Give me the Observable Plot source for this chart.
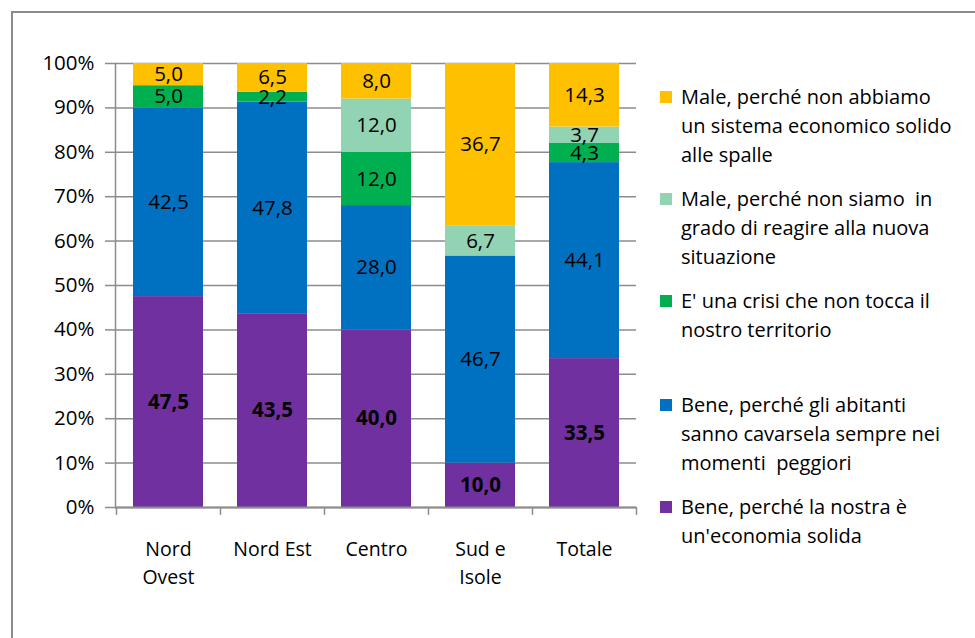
<!DOCTYPE html>
<html>
<head>
<meta charset="utf-8">
<script src="https://cdn.jsdelivr.net/npm/d3@7"></script>
<script src="https://cdn.jsdelivr.net/npm/@observablehq/plot@0.6"></script>
<style>
  html, body { margin: 0; padding: 0; background: #fff; overflow: hidden; }
  #wrap { position: relative; width: 975px; height: 638px; overflow: hidden; font-family: "Open Sans", Lato, sans-serif; }
  #border { position: absolute; left: 11px; top: 11px; right: -10px; bottom: -10px; border: 2px solid #8c8c8c; }
  #chart { position: absolute; left: 0; top: 0; }
  .item { position: absolute; left: 660px; font-size: 20px; line-height: 29px; color: #000; white-space: pre; }
  .sw { position: absolute; left: 0; top: 9px; width: 12px; height: 12px; }
  .lbl { position: absolute; left: 21px; top: 0; }
</style>
</head>
<body>
<div id="wrap">
  <div id="border"></div>
  <div id="chart"></div>
  <div id="legend"></div>
</div>
<script>
const categories = ["Nord Ovest", "Nord Est", "Centro", "Sud e Isole", "Totale"];
const categoryLabels = ["Nord\nOvest", "Nord Est", "Centro", "Sud e\nIsole", "Totale"];

// series, from bottom of the stack to top
const seriesNames = [
  "Bene, perché la nostra è un'economia solida",
  "Bene, perché gli abitanti sanno cavarsela sempre nei momenti peggiori",
  "E' una crisi che non tocca il nostro territorio",
  "Male, perché non siamo in grado di reagire alla nuova situazione",
  "Male, perché non abbiamo un sistema economico solido alle spalle"
];
const legendLines = [
  "Bene, perché la nostra è\nun'economia solida",
  "Bene, perché gli abitanti\nsanno cavarsela sempre nei\nmomenti  peggiori",
  "E' una crisi che non tocca il\nnostro territorio",
  "Male, perché non siamo  in\ngrado di reagire alla nuova\nsituazione",
  "Male, perché non abbiamo\nun sistema economico solido\nalle spalle"
];
const seriesColors = ["#7030A0", "#0070C0", "#00B050", "#92D3B4", "#FFC000"];

const beneSolida   = [47.5, 43.5, 40.0, 10.0, 33.5];
const beneAbitanti = [42.5, 47.8, 28.0, 46.7, 44.1];
const nonTocca     = [5.0, 2.2, 12.0, 0, 4.3];
const maleReagire  = [0, 0, 12.0, 6.7, 3.7];
const maleSistema  = [5.0, 6.5, 8.0, 36.7, 14.3];
const seriesValues = [beneSolida, beneAbitanti, nonTocca, maleReagire, maleSistema];

const yTicksPct = [0, 10, 20, 30, 40, 50, 60, 70, 80, 90, 100];
const yTicks = yTicksPct.map(p => p / 100);

const data = [];
seriesNames.forEach((s, si) => {
  categories.forEach((c, ci) => {
    data.push({category: c, series: s, si, value: seriesValues[si][ci]});
  });
});

const fmt = v => v.toFixed(1).replace(".", ",");
const labelMap = new Map(categories.map((c, i) => [c, categoryLabels[i]]));

const stackOpts = {x: "category", y: "value", z: "series", offset: "normalize"};
const FONT = "'Open Sans', Lato, sans-serif";

const chart = Plot.plot({
  width: 975,
  height: 638,
  marginLeft: 115,
  marginRight: 339,
  marginTop: 63,
  marginBottom: 131,
  style: {fontFamily: FONT, fontSize: "20px", color: "#000", background: "transparent"},
  x: {domain: categories, paddingInner: 0.33, paddingOuter: 0.165, label: null},
  y: {domain: [0, 1], label: null},
  color: {domain: seriesNames, range: seriesColors},
  marks: [
    Plot.gridY(yTicks, {stroke: "#8c8c8c", strokeOpacity: 1, strokeWidth: 1.5}),
    Plot.barY(data, Plot.stackY({...stackOpts, fill: "series"})),
    Plot.text(data, Plot.stackY({...stackOpts,
      text: d => (d.si === 0 || d.value === 0) ? "" : fmt(d.value),
      fill: "#000", fontSize: 20.5})),
    Plot.text(data, Plot.stackY({...stackOpts,
      text: d => (d.si === 0 && d.value > 0) ? fmt(d.value) : "",
      fill: "#000", fontSize: 20.5, fontWeight: "bold"})),
    Plot.axisY(yTicks, {tickSize: 10, tickPadding: 11, stroke: "#8c8c8c", strokeWidth: 1.5,
      tickFormat: d => Math.round(d * 100) + "%", fontSize: 20.5, fill: "#000", label: null}),
    Plot.frame({anchor: "left", stroke: "#8c8c8c", strokeWidth: 1.5}),
    Plot.ruleY([0], {stroke: "#8c8c8c", strokeWidth: 2}),
    Plot.ruleX(categories, {x: d => d, dx: -52, y1: 0, y2: 0, insetBottom: -8, stroke: "#8c8c8c", strokeWidth: 1.5}),
    Plot.ruleX(categories.slice(-1), {x: d => d, dx: 52, y1: 0, y2: 0, insetBottom: -8, stroke: "#8c8c8c", strokeWidth: 1.5}),
    Plot.axisX({tickSize: 0, tickPadding: 28, tickFormat: d => labelMap.get(d), lineHeight: 1.45,
      fontSize: 19.5, fill: "#000", label: null})
  ]
});
document.getElementById("chart").appendChild(chart);

// legend, top of stack first
const legendTops = [492, 390, 286, 184, 82];
const legend = document.getElementById("legend");
for (let i = seriesNames.length - 1; i >= 0; i--) {
  const item = document.createElement("div");
  item.className = "item";
  item.style.top = legendTops[i] + "px";
  const sw = document.createElement("div");
  sw.className = "sw";
  sw.style.background = seriesColors[i];
  const lbl = document.createElement("div");
  lbl.className = "lbl";
  lbl.textContent = legendLines[i];
  item.appendChild(sw);
  item.appendChild(lbl);
  legend.appendChild(item);
}
</script>
</body>
</html>
